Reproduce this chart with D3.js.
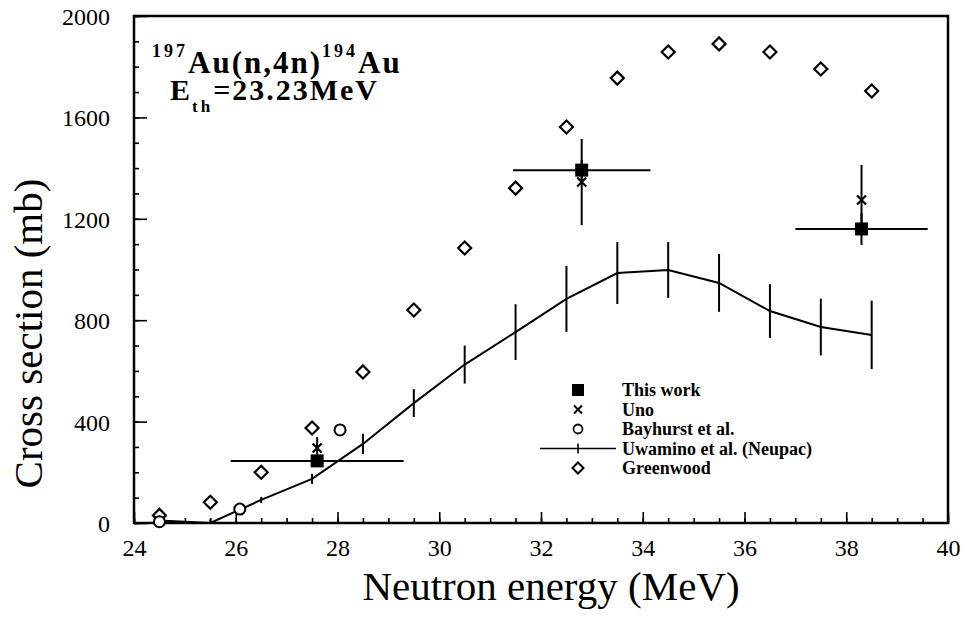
<!DOCTYPE html>
<html>
<head>
<meta charset="utf-8">
<script src="https://cdn.jsdelivr.net/npm/d3@7"></script>
<style>
  body { margin: 0; background: #fff; }
  svg { font-family: "Liberation Serif", "Times New Roman", serif; }
  .axis-label { font-size: 41px; fill: #000; text-anchor: middle; }
  .legend text { font-size: 18px; font-weight: bold; fill: #000; }
  .note { font-weight: bold; fill: #000; }
</style>
</head>
<body>
<svg width="969" height="617"></svg>
<script>
// ---- data ----
const xTicks = [24, 26, 28, 30, 32, 34, 36, 38, 40]
const yTicks = [0, 400, 800, 1200, 1600, 2000]

// This work
const thisE = [27.6, 32.8, 38.3]
const thisXS = [245, 1392, 1160]
const thisDE = [1.7, 1.35, 1.3]
const thisDXS = [20, 40, 63]

// Uno
const unoE = [27.6, 32.8, 38.3]
const unoXS = [296, 1345, 1274]
const unoDXS = [43, 170, 138]

// Bayhurst et al.
const bayE = [24.5, 26.08, 28.05]
const bayXS = [5, 55, 367]

// Uwamino et al. (Neupac)
const uwaE = [24.5, 25.5, 26.5, 27.5, 28.5, 29.5, 30.5, 31.5, 32.5, 33.5, 34.5, 35.5, 36.5, 37.5, 38.5]
const uwaXS = [10, 0, 91, 174, 312, 473, 625, 753, 884, 986, 998, 947, 836, 773, 742]
const uwaDXS = [0, 15, 12, 20, 40, 55, 75, 110, 130, 122, 110, 114, 106, 112, 135]

// Greenwood
const greenE = [24.5, 25.5, 26.5, 27.5, 28.5, 29.5, 30.5, 31.5, 32.5, 33.5, 34.5, 35.5, 36.5, 37.5, 38.5]
const greenXS = [30, 82, 200, 375, 596, 840, 1085, 1321, 1562, 1755, 1858, 1890, 1858, 1791, 1704]

const legendItems = ['This work', 'Uno', 'Bayhurst et al.', 'Uwamino et al. (Neupac)', 'Greenwood']

const svg = d3.select('svg')
const width = +svg.attr('width')
const height = +svg.attr('height')

const margin = {top: 16, right: 21, bottom: 94, left: 134}
const innerWidth = width - margin.left - margin.right
const innerHeight = height - margin.top - margin.bottom

const xScale = d3.scaleLinear().domain([24, 40]).range([0, innerWidth])
const yScale = d3.scaleLinear().domain([0, 2000]).range([innerHeight, 0])

const g = svg.append('g')
    .attr('transform', `translate(${margin.left},${margin.top})`)

// axes: ticks point inward
g.append('g')
    .attr('transform', `translate(0,${innerHeight})`)
    .call(d3.axisBottom(xScale).tickValues(d3.range(24, 40.01, 0.5)).tickSize(-5).tickFormat(''))
const xAxisG = g.append('g')
    .attr('transform', `translate(0,${innerHeight})`)
    .call(d3.axisBottom(xScale).tickValues(xTicks).tickSize(-11).tickPadding(16).tickFormat(d3.format('d')))
g.append('g')
    .call(d3.axisLeft(yScale).tickValues(d3.range(0, 2001, 100)).tickSize(-5).tickFormat(''))
const yAxisG = g.append('g')
    .call(d3.axisLeft(yScale).tickValues(yTicks).tickSize(-13).tickPadding(24).tickFormat(d3.format('d')))

g.selectAll('.domain').remove()
g.selectAll('.tick line').attr('stroke', '#000').attr('stroke-width', 1.6)
// d3 puts font-family="sans-serif" and font-size=10 on the axis group, so set the labels inline
xAxisG.attr('font-family', 'Liberation Serif').attr('font-size', 24)
yAxisG.attr('font-family', 'Liberation Serif').attr('font-size', 24)
g.selectAll('.tick text')
    .style('font-family', '"Liberation Serif", "Times New Roman", serif')
    .style('font-size', '24px')
    .attr('fill', '#000')
yAxisG.selectAll('.tick text').attr('dy', '0.35em')

// frame
g.append('rect')
    .attr('width', innerWidth).attr('height', innerHeight)
    .attr('fill', 'none').attr('stroke', '#000').attr('stroke-width', 2.5)

// axis titles
svg.append('text').attr('class', 'axis-label')
    .attr('x', margin.left + innerWidth / 2 + 10).attr('y', 600)
    .text('Neutron energy (MeV)')
svg.append('text').attr('class', 'axis-label')
    .attr('transform', `translate(42,${margin.top + innerHeight / 2 + 64}) rotate(-90)`)
    .text('Cross section (mb)')

const ink = '#000'

// Uwamino curve with vertical error bars
const line = d3.line().x(d => xScale(d[0])).y(d => yScale(d[1]))
g.append('path')
    .datum(d3.zip(uwaE, uwaXS))
    .attr('d', line)
    .attr('fill', 'none').attr('stroke', ink).attr('stroke-width', 2)
g.selectAll('.uwa-err').data(d3.zip(uwaE, uwaXS, uwaDXS).filter(d => d[2] > 0))
    .enter().append('line')
    .attr('x1', d => xScale(d[0])).attr('x2', d => xScale(d[0]))
    .attr('y1', d => yScale(Math.max(0, d[1] - d[2]))).attr('y2', d => yScale(d[1] + d[2]))
    .attr('stroke', ink).attr('stroke-width', 2)

// Greenwood diamonds
const diamond = s => `M0,${-s}L${s},0L0,${s}L${-s},0Z`
g.selectAll('.green').data(d3.zip(greenE, greenXS))
    .enter().append('path')
    .attr('transform', d => `translate(${xScale(d[0])},${yScale(d[1])})`)
    .attr('d', diamond(6.5))
    .attr('fill', '#fff').attr('stroke', ink).attr('stroke-width', 2.2)

// Bayhurst circles
g.selectAll('.bay').data(d3.zip(bayE, bayXS))
    .enter().append('circle')
    .attr('cx', d => xScale(d[0])).attr('cy', d => yScale(d[1]))
    .attr('r', 5.5)
    .attr('fill', '#fff').attr('stroke', ink).attr('stroke-width', 2)

// This work: error bars and squares
const work = d3.zip(thisE, thisXS, thisDE, thisDXS)
g.selectAll('.work-h').data(work)
    .enter().append('line')
    .attr('x1', d => xScale(d[0] - d[2])).attr('x2', d => xScale(d[0] + d[2]))
    .attr('y1', d => yScale(d[1])).attr('y2', d => yScale(d[1]))
    .attr('stroke', ink).attr('stroke-width', 2)
g.selectAll('.work-v').data(work)
    .enter().append('line')
    .attr('x1', d => xScale(d[0])).attr('x2', d => xScale(d[0]))
    .attr('y1', d => yScale(d[1] - d[3])).attr('y2', d => yScale(d[1] + d[3]))
    .attr('stroke', ink).attr('stroke-width', 2)

// Uno crosses with error bars
const uno = d3.zip(unoE, unoXS, unoDXS)
g.selectAll('.uno-v').data(uno)
    .enter().append('line')
    .attr('x1', d => xScale(d[0])).attr('x2', d => xScale(d[0]))
    .attr('y1', d => yScale(d[1] - d[2])).attr('y2', d => yScale(d[1] + d[2]))
    .attr('stroke', ink).attr('stroke-width', 2)

g.selectAll('.work').data(work)
    .enter().append('rect')
    .attr('x', d => xScale(d[0]) - 6.5).attr('y', d => yScale(d[1]) - 6.5)
    .attr('width', 13).attr('height', 13)
    .attr('fill', ink)

const cross = s => `M${-s},${-s}L${s},${s}M${-s},${s}L${s},${-s}`
g.selectAll('.uno').data(uno)
    .enter().append('path')
    .attr('transform', d => `translate(${xScale(d[0])},${yScale(d[1])})`)
    .attr('d', cross(4.5))
    .attr('stroke', ink).attr('stroke-width', 2.2)

// legend
const legend = svg.append('g').attr('class', 'legend')
    .attr('transform', 'translate(578,390)')
const rowH = 19.5
legendItems.forEach((name, i) => {
    const row = legend.append('g').attr('transform', `translate(0,${i * rowH})`)
    if (i === 0) row.append('rect').attr('x', -6).attr('y', -6).attr('width', 12).attr('height', 12).attr('fill', ink)
    if (i === 1) row.append('path').attr('d', cross(4)).attr('stroke', ink).attr('stroke-width', 2)
    if (i === 2) row.append('circle').attr('r', 4.5).attr('fill', 'none').attr('stroke', ink).attr('stroke-width', 1.8)
    if (i === 3) {
        row.append('line').attr('x1', -38).attr('x2', 38).attr('stroke', ink).attr('stroke-width', 1.6)
        row.append('line').attr('y1', -5).attr('y2', 5).attr('stroke', ink).attr('stroke-width', 1.6)
    }
    if (i === 4) row.append('path').attr('d', diamond(5.5)).attr('fill', 'none').attr('stroke', ink).attr('stroke-width', 2)
    row.append('text').attr('x', 44).attr('dy', '0.35em').text(name)
})

// reaction note
const note1 = svg.append('text').attr('class', 'note').attr('x', 152).attr('y', 73)
note1.append('tspan').attr('font-size', 18).attr('dy', -16).attr('letter-spacing', 3).text('197')
note1.append('tspan').attr('font-size', 31).attr('dy', 16).attr('letter-spacing', 2).text('Au(n,4n)')
note1.append('tspan').attr('font-size', 18).attr('dy', -16).attr('letter-spacing', 3).text('194')
note1.append('tspan').attr('font-size', 31).attr('dy', 16).attr('letter-spacing', 2).text('Au')

const note2 = svg.append('text').attr('class', 'note').attr('x', 170).attr('y', 100)
note2.append('tspan').attr('font-size', 30).attr('letter-spacing', 2).text('E')
note2.append('tspan').attr('font-size', 17).attr('dy', 12).attr('letter-spacing', 3).text('th')
note2.append('tspan').attr('font-size', 30).attr('dy', -12).attr('letter-spacing', 2).text('=23.23MeV')
</script>
</body>
</html>
